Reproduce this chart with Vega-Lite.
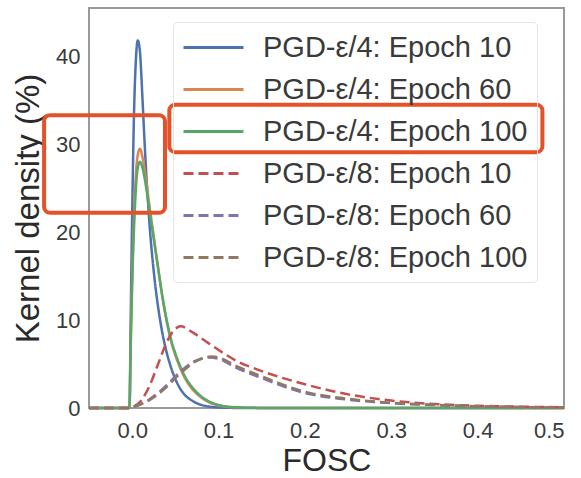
{
  "$schema": "https://vega.github.io/schema/vega-lite/v6.json",
  "width": 475,
  "height": 400,
  "autosize": "none",
  "padding": {"left": 89, "top": 8, "right": 17, "bottom": 70},
  "background": "white",
  "config": {
    "font": "Liberation Sans",
    "view": {"stroke": "#9a9a9a", "strokeWidth": 2},
    "axis": {"grid": false, "ticks": false, "domain": false, "labelColor": "#3a3a3a", "titleColor": "#2a2a2a", "labelFont": "Liberation Sans", "titleFont": "Liberation Sans", "titleFontWeight": "normal"}
  },
  "datasets": {
    "curves": [
      {"series": "PGD-ε/4: Epoch 10", "x": -0.05, "y": 0},
      {"series": "PGD-ε/4: Epoch 10", "x": -0.004, "y": 0},
      {"series": "PGD-ε/4: Epoch 10", "x": -0.003, "y": 0.3},
      {"series": "PGD-ε/4: Epoch 10", "x": -0.002, "y": 8},
      {"series": "PGD-ε/4: Epoch 10", "x": 0, "y": 22},
      {"series": "PGD-ε/4: Epoch 10", "x": 0.002, "y": 33},
      {"series": "PGD-ε/4: Epoch 10", "x": 0.004, "y": 39},
      {"series": "PGD-ε/4: Epoch 10", "x": 0.0065, "y": 41.8},
      {"series": "PGD-ε/4: Epoch 10", "x": 0.009, "y": 40.5},
      {"series": "PGD-ε/4: Epoch 10", "x": 0.012, "y": 35},
      {"series": "PGD-ε/4: Epoch 10", "x": 0.015, "y": 29},
      {"series": "PGD-ε/4: Epoch 10", "x": 0.02, "y": 21},
      {"series": "PGD-ε/4: Epoch 10", "x": 0.025, "y": 15.5},
      {"series": "PGD-ε/4: Epoch 10", "x": 0.03, "y": 11.5},
      {"series": "PGD-ε/4: Epoch 10", "x": 0.035, "y": 8.5},
      {"series": "PGD-ε/4: Epoch 10", "x": 0.04, "y": 6.3},
      {"series": "PGD-ε/4: Epoch 10", "x": 0.045, "y": 4.6},
      {"series": "PGD-ε/4: Epoch 10", "x": 0.05, "y": 3.3},
      {"series": "PGD-ε/4: Epoch 10", "x": 0.055, "y": 2.3},
      {"series": "PGD-ε/4: Epoch 10", "x": 0.06, "y": 1.6},
      {"series": "PGD-ε/4: Epoch 10", "x": 0.07, "y": 0.8},
      {"series": "PGD-ε/4: Epoch 10", "x": 0.08, "y": 0.35},
      {"series": "PGD-ε/4: Epoch 10", "x": 0.09, "y": 0.15},
      {"series": "PGD-ε/4: Epoch 10", "x": 0.1, "y": 0.06},
      {"series": "PGD-ε/4: Epoch 10", "x": 0.12, "y": 0.01},
      {"series": "PGD-ε/4: Epoch 10", "x": 0.15, "y": 0},
      {"series": "PGD-ε/4: Epoch 10", "x": 0.5, "y": 0},

      {"series": "PGD-ε/4: Epoch 60", "x": -0.05, "y": 0},
      {"series": "PGD-ε/4: Epoch 60", "x": -0.004, "y": 0},
      {"series": "PGD-ε/4: Epoch 60", "x": -0.003, "y": 0.3},
      {"series": "PGD-ε/4: Epoch 60", "x": -0.002, "y": 6},
      {"series": "PGD-ε/4: Epoch 60", "x": 0, "y": 15},
      {"series": "PGD-ε/4: Epoch 60", "x": 0.003, "y": 24},
      {"series": "PGD-ε/4: Epoch 60", "x": 0.006, "y": 28.5},
      {"series": "PGD-ε/4: Epoch 60", "x": 0.009, "y": 29.5},
      {"series": "PGD-ε/4: Epoch 60", "x": 0.012, "y": 28.5},
      {"series": "PGD-ε/4: Epoch 60", "x": 0.016, "y": 26},
      {"series": "PGD-ε/4: Epoch 60", "x": 0.02, "y": 23},
      {"series": "PGD-ε/4: Epoch 60", "x": 0.025, "y": 19.5},
      {"series": "PGD-ε/4: Epoch 60", "x": 0.03, "y": 16},
      {"series": "PGD-ε/4: Epoch 60", "x": 0.035, "y": 12.6},
      {"series": "PGD-ε/4: Epoch 60", "x": 0.04, "y": 9.8},
      {"series": "PGD-ε/4: Epoch 60", "x": 0.045, "y": 7.6},
      {"series": "PGD-ε/4: Epoch 60", "x": 0.05, "y": 6},
      {"series": "PGD-ε/4: Epoch 60", "x": 0.055, "y": 4.7},
      {"series": "PGD-ε/4: Epoch 60", "x": 0.06, "y": 3.6},
      {"series": "PGD-ε/4: Epoch 60", "x": 0.07, "y": 2.1},
      {"series": "PGD-ε/4: Epoch 60", "x": 0.08, "y": 1.2},
      {"series": "PGD-ε/4: Epoch 60", "x": 0.09, "y": 0.6},
      {"series": "PGD-ε/4: Epoch 60", "x": 0.1, "y": 0.3},
      {"series": "PGD-ε/4: Epoch 60", "x": 0.12, "y": 0.07},
      {"series": "PGD-ε/4: Epoch 60", "x": 0.15, "y": 0.01},
      {"series": "PGD-ε/4: Epoch 60", "x": 0.2, "y": 0},
      {"series": "PGD-ε/4: Epoch 60", "x": 0.5, "y": 0},

      {"series": "PGD-ε/4: Epoch 100", "x": -0.05, "y": 0},
      {"series": "PGD-ε/4: Epoch 100", "x": -0.004, "y": 0},
      {"series": "PGD-ε/4: Epoch 100", "x": -0.003, "y": 0.3},
      {"series": "PGD-ε/4: Epoch 100", "x": -0.002, "y": 5.5},
      {"series": "PGD-ε/4: Epoch 100", "x": 0, "y": 14},
      {"series": "PGD-ε/4: Epoch 100", "x": 0.003, "y": 22.5},
      {"series": "PGD-ε/4: Epoch 100", "x": 0.006, "y": 27},
      {"series": "PGD-ε/4: Epoch 100", "x": 0.009, "y": 28},
      {"series": "PGD-ε/4: Epoch 100", "x": 0.012, "y": 27.3},
      {"series": "PGD-ε/4: Epoch 100", "x": 0.016, "y": 25.2},
      {"series": "PGD-ε/4: Epoch 100", "x": 0.02, "y": 22.5},
      {"series": "PGD-ε/4: Epoch 100", "x": 0.025, "y": 19.2},
      {"series": "PGD-ε/4: Epoch 100", "x": 0.03, "y": 15.9},
      {"series": "PGD-ε/4: Epoch 100", "x": 0.035, "y": 12.7},
      {"series": "PGD-ε/4: Epoch 100", "x": 0.04, "y": 10},
      {"series": "PGD-ε/4: Epoch 100", "x": 0.045, "y": 7.8},
      {"series": "PGD-ε/4: Epoch 100", "x": 0.05, "y": 6.2},
      {"series": "PGD-ε/4: Epoch 100", "x": 0.055, "y": 4.9},
      {"series": "PGD-ε/4: Epoch 100", "x": 0.06, "y": 3.8},
      {"series": "PGD-ε/4: Epoch 100", "x": 0.07, "y": 2.3},
      {"series": "PGD-ε/4: Epoch 100", "x": 0.08, "y": 1.3},
      {"series": "PGD-ε/4: Epoch 100", "x": 0.09, "y": 0.7},
      {"series": "PGD-ε/4: Epoch 100", "x": 0.1, "y": 0.35},
      {"series": "PGD-ε/4: Epoch 100", "x": 0.12, "y": 0.08},
      {"series": "PGD-ε/4: Epoch 100", "x": 0.15, "y": 0.01},
      {"series": "PGD-ε/4: Epoch 100", "x": 0.2, "y": 0},
      {"series": "PGD-ε/4: Epoch 100", "x": 0.5, "y": 0},

      {"series": "PGD-ε/8: Epoch 10", "x": -0.05, "y": 0},
      {"series": "PGD-ε/8: Epoch 10", "x": -0.005, "y": 0},
      {"series": "PGD-ε/8: Epoch 10", "x": 0, "y": 0.1},
      {"series": "PGD-ε/8: Epoch 10", "x": 0.01, "y": 0.8},
      {"series": "PGD-ε/8: Epoch 10", "x": 0.02, "y": 2.5},
      {"series": "PGD-ε/8: Epoch 10", "x": 0.03, "y": 5},
      {"series": "PGD-ε/8: Epoch 10", "x": 0.04, "y": 7.5},
      {"series": "PGD-ε/8: Epoch 10", "x": 0.05, "y": 9},
      {"series": "PGD-ε/8: Epoch 10", "x": 0.056, "y": 9.3},
      {"series": "PGD-ε/8: Epoch 10", "x": 0.07, "y": 8.6},
      {"series": "PGD-ε/8: Epoch 10", "x": 0.085, "y": 7.6},
      {"series": "PGD-ε/8: Epoch 10", "x": 0.1, "y": 6.6},
      {"series": "PGD-ε/8: Epoch 10", "x": 0.12, "y": 5.4},
      {"series": "PGD-ε/8: Epoch 10", "x": 0.15, "y": 4.2},
      {"series": "PGD-ε/8: Epoch 10", "x": 0.2, "y": 2.7},
      {"series": "PGD-ε/8: Epoch 10", "x": 0.25, "y": 1.55},
      {"series": "PGD-ε/8: Epoch 10", "x": 0.3, "y": 0.85},
      {"series": "PGD-ε/8: Epoch 10", "x": 0.35, "y": 0.45},
      {"series": "PGD-ε/8: Epoch 10", "x": 0.4, "y": 0.25},
      {"series": "PGD-ε/8: Epoch 10", "x": 0.45, "y": 0.15},
      {"series": "PGD-ε/8: Epoch 10", "x": 0.5, "y": 0.08},

      {"series": "PGD-ε/8: Epoch 60", "x": -0.05, "y": 0},
      {"series": "PGD-ε/8: Epoch 60", "x": -0.005, "y": 0},
      {"series": "PGD-ε/8: Epoch 60", "x": 0, "y": 0.1},
      {"series": "PGD-ε/8: Epoch 60", "x": 0.02, "y": 1},
      {"series": "PGD-ε/8: Epoch 60", "x": 0.04, "y": 2.6},
      {"series": "PGD-ε/8: Epoch 60", "x": 0.05, "y": 3.6},
      {"series": "PGD-ε/8: Epoch 60", "x": 0.06, "y": 4.5},
      {"series": "PGD-ε/8: Epoch 60", "x": 0.07, "y": 5.2},
      {"series": "PGD-ε/8: Epoch 60", "x": 0.08, "y": 5.6},
      {"series": "PGD-ε/8: Epoch 60", "x": 0.09, "y": 5.75},
      {"series": "PGD-ε/8: Epoch 60", "x": 0.1, "y": 5.6},
      {"series": "PGD-ε/8: Epoch 60", "x": 0.12, "y": 4.6},
      {"series": "PGD-ε/8: Epoch 60", "x": 0.15, "y": 3.4},
      {"series": "PGD-ε/8: Epoch 60", "x": 0.2, "y": 1.7},
      {"series": "PGD-ε/8: Epoch 60", "x": 0.25, "y": 0.95},
      {"series": "PGD-ε/8: Epoch 60", "x": 0.3, "y": 0.55},
      {"series": "PGD-ε/8: Epoch 60", "x": 0.35, "y": 0.33},
      {"series": "PGD-ε/8: Epoch 60", "x": 0.4, "y": 0.18},
      {"series": "PGD-ε/8: Epoch 60", "x": 0.45, "y": 0.1},
      {"series": "PGD-ε/8: Epoch 60", "x": 0.5, "y": 0.06},

      {"series": "PGD-ε/8: Epoch 100", "x": -0.05, "y": 0},
      {"series": "PGD-ε/8: Epoch 100", "x": -0.005, "y": 0},
      {"series": "PGD-ε/8: Epoch 100", "x": 0, "y": 0.1},
      {"series": "PGD-ε/8: Epoch 100", "x": 0.02, "y": 0.9},
      {"series": "PGD-ε/8: Epoch 100", "x": 0.04, "y": 2.4},
      {"series": "PGD-ε/8: Epoch 100", "x": 0.05, "y": 3.4},
      {"series": "PGD-ε/8: Epoch 100", "x": 0.06, "y": 4.3},
      {"series": "PGD-ε/8: Epoch 100", "x": 0.07, "y": 5.1},
      {"series": "PGD-ε/8: Epoch 100", "x": 0.08, "y": 5.6},
      {"series": "PGD-ε/8: Epoch 100", "x": 0.092, "y": 5.85},
      {"series": "PGD-ε/8: Epoch 100", "x": 0.1, "y": 5.75},
      {"series": "PGD-ε/8: Epoch 100", "x": 0.12, "y": 4.8},
      {"series": "PGD-ε/8: Epoch 100", "x": 0.15, "y": 3.6},
      {"series": "PGD-ε/8: Epoch 100", "x": 0.2, "y": 1.85},
      {"series": "PGD-ε/8: Epoch 100", "x": 0.25, "y": 1.05},
      {"series": "PGD-ε/8: Epoch 100", "x": 0.3, "y": 0.6},
      {"series": "PGD-ε/8: Epoch 100", "x": 0.35, "y": 0.36},
      {"series": "PGD-ε/8: Epoch 100", "x": 0.4, "y": 0.2},
      {"series": "PGD-ε/8: Epoch 100", "x": 0.45, "y": 0.11},
      {"series": "PGD-ε/8: Epoch 100", "x": 0.5, "y": 0.07}
    ],
    "boxes": [
      {"x1": 0.043, "x2": 0.475, "y1": 29.1, "y2": 34.5},
      {"x1": -0.102, "x2": 0.038, "y1": 22.2, "y2": 33.3}
    ]
  },
  "layer": [
    {
      "data": {"name": "curves"},
      "mark": {"type": "line", "strokeWidth": 2.5, "interpolate": "monotone"},
      "encoding": {
        "x": {"field": "x", "type": "quantitative", "scale": {"domain": [-0.05, 0.5], "nice": false, "zero": false},
          "axis": {"values": [0, 0.1, 0.2, 0.3, 0.4, 0.5], "format": ".1f", "labelFontSize": 22, "labelPadding": 12, "title": "FOSC", "titleFontSize": 32, "titlePadding": 4}},
        "y": {"field": "y", "type": "quantitative", "scale": {"domain": [0, 45.5], "nice": false},
          "axis": {"values": [0, 10, 20, 30, 40], "labelFontSize": 22, "labelPadding": 9, "title": "Kernel density (%)", "titleFontSize": 33, "titlePadding": 10}},
        "color": {"field": "series", "type": "nominal", "title": null,
          "scale": {"domain": ["PGD-ε/4: Epoch 10", "PGD-ε/4: Epoch 60", "PGD-ε/4: Epoch 100", "PGD-ε/8: Epoch 10", "PGD-ε/8: Epoch 60", "PGD-ε/8: Epoch 100"],
            "range": ["#4c72b0", "#dd8452", "#55a868", "#c44e52", "#8172b3", "#937860"]},
          "legend": {"orient": "none", "legendX": 84, "legendY": 14, "labelFontSize": 29, "labelLimit": 400, "labelColor": "#3a3a3a", "symbolType": "M-2,0H2", "symbolSize": 900, "symbolStrokeWidth": 3, "symbolOffset": 15, "labelOffset": 33, "rowPadding": 10, "padding": 9, "strokeColor": "#e4e4e4", "cornerRadius": 4, "labelFont": "Liberation Sans"}},
        "strokeDash": {"field": "series", "type": "nominal", "title": null,
          "scale": {"domain": ["PGD-ε/4: Epoch 10", "PGD-ε/4: Epoch 60", "PGD-ε/4: Epoch 100", "PGD-ε/8: Epoch 10", "PGD-ε/8: Epoch 60", "PGD-ε/8: Epoch 100"],
            "range": [[1, 0], [1, 0], [1, 0], [10, 5], [10, 5], [10, 5]]}},
        "order": {"field": "x", "type": "quantitative"}
      }
    },
    {
      "data": {"name": "boxes"},
      "mark": {"type": "rect", "fill": null, "fillOpacity": 0, "stroke": "#e4522a", "strokeWidth": 4, "cornerRadius": 6},
      "encoding": {
        "x": {"field": "x1", "type": "quantitative"},
        "x2": {"field": "x2"},
        "y": {"field": "y1", "type": "quantitative"},
        "y2": {"field": "y2"}
      }
    }
  ]
}
